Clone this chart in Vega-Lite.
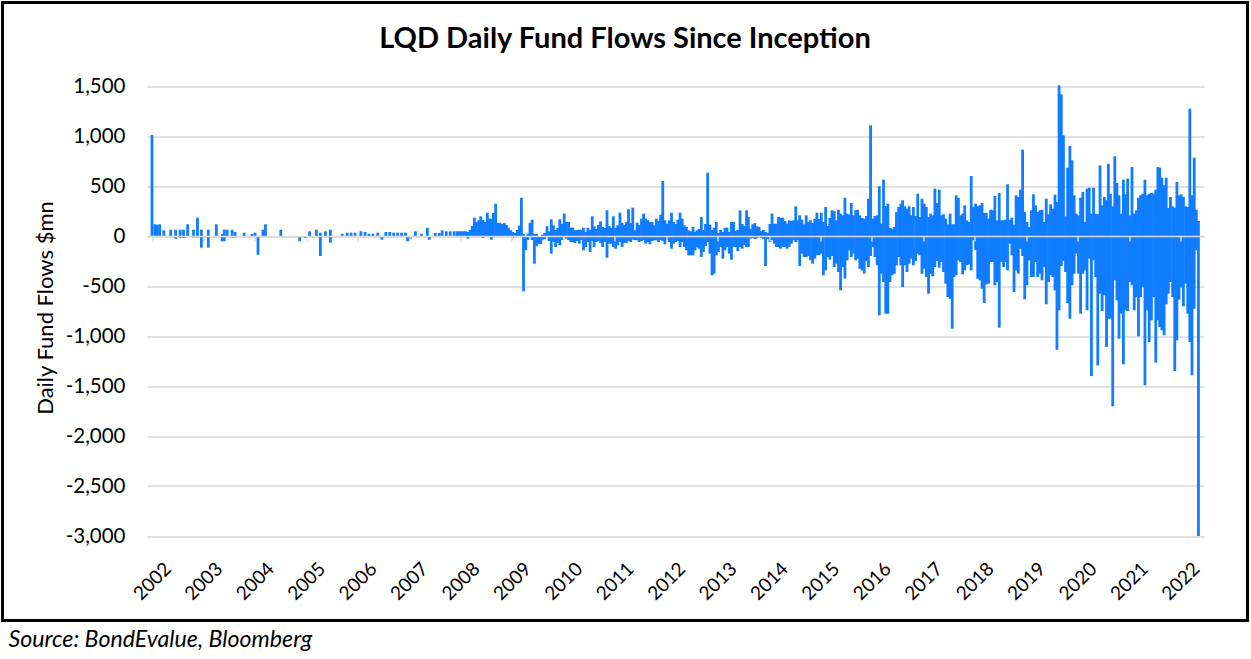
{
"$schema": "https://vega.github.io/schema/vega-lite/v6.json",
"autosize": {"type": "none"},
"padding": {"left": 2.5, "top": 2.5, "right": 3.5, "bottom": 38.5},
"width": 1245,
"height": 618,
"background": "white",
"view": {"stroke": "#000000", "strokeWidth": 3, "fill": "white"},
"title": {"text": "LQD Daily Fund Flows Since Inception", "orient": "top", "anchor": "middle", "offset": -74, "font": "Lato", "fontSize": 29, "fontWeight": "bold", "color": "#000000", "baseline": "alphabetic"},
"data": {"values": [
{"date":"2002-07-26","flow":1010},{"date":"2002-08-15","flow":117},{"date":"2002-09-02","flow":113},{"date":"2002-09-19","flow":117},{"date":"2002-10-18","flow":57},{"date":"2002-12-06","flow":63},
{"date":"2003-01-10","flow":63},{"date":"2003-01-10","flow":-27},{"date":"2003-02-11","flow":63},{"date":"2003-02-11","flow":-20},{"date":"2003-03-07","flow":63},{"date":"2003-03-07","flow":-20},{"date":"2003-04-05","flow":117},{"date":"2003-05-17","flow":63},{"date":"2003-05-17","flow":-15},{"date":"2003-06-14","flow":183},{"date":"2003-06-14","flow":-15},{"date":"2003-07-12","flow":63},{"date":"2003-07-12","flow":-117},{"date":"2003-08-30","flow":63},{"date":"2003-08-30","flow":-117},{"date":"2003-10-26","flow":117},{"date":"2003-12-07","flow":20},{"date":"2003-12-07","flow":-53},{"date":"2003-12-21","flow":63},{"date":"2003-12-21","flow":-53},
{"date":"2004-01-11","flow":63},{"date":"2004-02-15","flow":63},{"date":"2004-02-15","flow":-15},{"date":"2004-03-07","flow":40},{"date":"2004-03-07","flow":-15},{"date":"2004-05-10","flow":33},{"date":"2004-07-05","flow":20},{"date":"2004-07-27","flow":33},{"date":"2004-08-17","flow":-187},{"date":"2004-09-21","flow":63},{"date":"2004-10-09","flow":117},
{"date":"2005-01-26","flow":63},{"date":"2005-06-09","flow":-53},{"date":"2005-07-21","flow":-20},{"date":"2005-08-18","flow":47},{"date":"2005-10-06","flow":63},{"date":"2005-11-03","flow":33},{"date":"2005-11-03","flow":-200},{"date":"2005-12-09","flow":47},
{"date":"2006-01-13","flow":63},{"date":"2006-01-13","flow":-67},{"date":"2006-04-07","flow":23},{"date":"2006-05-12","flow":33},{"date":"2006-06-09","flow":33},{"date":"2006-07-07","flow":33},{"date":"2006-08-18","flow":47},{"date":"2006-09-16","flow":40},{"date":"2006-10-14","flow":23},{"date":"2006-11-11","flow":23},{"date":"2006-12-16","flow":33},
{"date":"2007-01-14","flow":-37},{"date":"2007-02-11","flow":40},{"date":"2007-03-11","flow":40},{"date":"2007-04-08","flow":33},{"date":"2007-05-06","flow":33},{"date":"2007-06-03","flow":33},{"date":"2007-07-01","flow":33},{"date":"2007-07-15","flow":-53},{"date":"2007-08-05","flow":-27},{"date":"2007-09-09","flow":47},{"date":"2007-10-22","flow":23},{"date":"2007-12-03","flow":83},{"date":"2007-12-17","flow":-37},
{"date":"2008-01-28","flow":30},{"date":"2008-02-25","flow":30},{"date":"2008-03-17","flow":57},{"date":"2008-04-15","flow":47},{"date":"2008-05-13","flow":47},{"date":"2008-06-10","flow":47},
{"date":"2008-07-01","flow":47},{"date":"2008-07-16","flow":47},{"date":"2008-08-01","flow":47},{"date":"2008-08-16","flow":47},{"date":"2008-09-01","flow":47},{"date":"2008-09-16","flow":40},{"date":"2008-09-16","flow":-27},{"date":"2008-10-01","flow":60},{"date":"2008-10-16","flow":100},{"date":"2008-11-01","flow":183},{"date":"2008-11-16","flow":140},{"date":"2008-12-01","flow":157},{"date":"2008-12-16","flow":197},
{"date":"2009-01-01","flow":160},{"date":"2009-01-01","flow":-20},{"date":"2009-01-16","flow":140},{"date":"2009-02-01","flow":233},{"date":"2009-02-16","flow":173},{"date":"2009-03-01","flow":173},{"date":"2009-03-01","flow":-37},{"date":"2009-03-16","flow":230},{"date":"2009-04-01","flow":323},{"date":"2009-04-16","flow":130},{"date":"2009-05-01","flow":133},{"date":"2009-05-16","flow":120},{"date":"2009-06-01","flow":130},{"date":"2009-06-16","flow":110},{"date":"2009-07-01","flow":83},{"date":"2009-07-16","flow":57},{"date":"2009-08-01","flow":40},{"date":"2009-08-01","flow":-20},{"date":"2009-08-16","flow":30},{"date":"2009-09-01","flow":60},{"date":"2009-09-16","flow":103},{"date":"2009-10-01","flow":383},{"date":"2009-10-16","flow":20},{"date":"2009-10-16","flow":-553},{"date":"2009-11-01","flow":-143},{"date":"2009-11-16","flow":23},{"date":"2009-11-16","flow":-40},{"date":"2009-12-01","flow":130},{"date":"2009-12-16","flow":163},{"date":"2009-12-16","flow":-40},
{"date":"2010-01-01","flow":20},{"date":"2010-01-01","flow":-277},{"date":"2010-01-16","flow":20},{"date":"2010-01-16","flow":-103},{"date":"2010-02-01","flow":-80},{"date":"2010-02-16","flow":-80},{"date":"2010-03-01","flow":15},{"date":"2010-03-01","flow":-37},{"date":"2010-03-16","flow":30},{"date":"2010-03-16","flow":-30},{"date":"2010-04-01","flow":97},{"date":"2010-04-16","flow":47},{"date":"2010-04-16","flow":-50},{"date":"2010-05-01","flow":167},{"date":"2010-05-01","flow":-177},{"date":"2010-05-16","flow":107},{"date":"2010-05-16","flow":-60},{"date":"2010-06-01","flow":60},{"date":"2010-06-01","flow":-110},{"date":"2010-06-16","flow":80},{"date":"2010-06-16","flow":-70},{"date":"2010-07-01","flow":167},{"date":"2010-07-01","flow":-93},{"date":"2010-07-16","flow":123},{"date":"2010-07-16","flow":-40},{"date":"2010-08-01","flow":223},{"date":"2010-08-16","flow":140},{"date":"2010-08-16","flow":-27},{"date":"2010-09-01","flow":140},{"date":"2010-09-01","flow":-40},{"date":"2010-09-16","flow":83},{"date":"2010-09-16","flow":-60},{"date":"2010-10-01","flow":83},{"date":"2010-10-01","flow":-60},{"date":"2010-10-16","flow":57},{"date":"2010-10-16","flow":-70},{"date":"2010-11-01","flow":60},{"date":"2010-11-01","flow":-50},{"date":"2010-11-16","flow":63},{"date":"2010-11-16","flow":-77},{"date":"2010-12-01","flow":63},{"date":"2010-12-01","flow":-40},{"date":"2010-12-16","flow":83},{"date":"2010-12-16","flow":-143},
{"date":"2011-01-01","flow":40},{"date":"2011-01-01","flow":-110},{"date":"2011-01-16","flow":83},{"date":"2011-01-16","flow":-60},{"date":"2011-02-01","flow":60},{"date":"2011-02-01","flow":-160},{"date":"2011-02-16","flow":197},{"date":"2011-02-16","flow":-50},{"date":"2011-03-01","flow":97},{"date":"2011-03-01","flow":-110},{"date":"2011-03-16","flow":70},{"date":"2011-03-16","flow":-60},{"date":"2011-04-01","flow":110},{"date":"2011-04-01","flow":-50},{"date":"2011-04-16","flow":147},{"date":"2011-04-16","flow":-70},{"date":"2011-05-01","flow":90},{"date":"2011-05-01","flow":-110},{"date":"2011-05-16","flow":80},{"date":"2011-05-16","flow":-60},{"date":"2011-06-01","flow":257},{"date":"2011-06-01","flow":-217},{"date":"2011-06-16","flow":100},{"date":"2011-06-16","flow":-77},{"date":"2011-07-01","flow":83},{"date":"2011-07-01","flow":-77},{"date":"2011-07-16","flow":197},{"date":"2011-07-16","flow":-110},{"date":"2011-08-01","flow":83},{"date":"2011-08-01","flow":-127},{"date":"2011-08-16","flow":107},{"date":"2011-08-16","flow":-93},{"date":"2011-09-01","flow":233},{"date":"2011-09-01","flow":-60},{"date":"2011-09-16","flow":130},{"date":"2011-09-16","flow":-110},{"date":"2011-10-01","flow":110},{"date":"2011-10-01","flow":-70},{"date":"2011-10-16","flow":140},{"date":"2011-10-16","flow":-70},{"date":"2011-11-01","flow":267},{"date":"2011-11-01","flow":-50},{"date":"2011-11-16","flow":130},{"date":"2011-11-16","flow":-60},{"date":"2011-12-01","flow":283},{"date":"2011-12-01","flow":-37},{"date":"2011-12-16","flow":57},{"date":"2011-12-16","flow":-40},
{"date":"2012-01-01","flow":133},{"date":"2012-01-01","flow":-43},{"date":"2012-01-16","flow":110},{"date":"2012-01-16","flow":-60},{"date":"2012-02-01","flow":173},{"date":"2012-02-01","flow":-50},{"date":"2012-02-16","flow":223},{"date":"2012-02-16","flow":-40},{"date":"2012-03-01","flow":173},{"date":"2012-03-01","flow":-77},{"date":"2012-03-16","flow":157},{"date":"2012-03-16","flow":-60},{"date":"2012-04-01","flow":140},{"date":"2012-04-01","flow":-83},{"date":"2012-04-16","flow":140},{"date":"2012-04-16","flow":-50},{"date":"2012-05-01","flow":107},{"date":"2012-05-01","flow":-43},{"date":"2012-05-16","flow":173},{"date":"2012-05-16","flow":-43},{"date":"2012-06-01","flow":150},{"date":"2012-06-01","flow":-60},{"date":"2012-06-16","flow":213},{"date":"2012-06-16","flow":-40},{"date":"2012-07-01","flow":550},{"date":"2012-07-01","flow":-50},{"date":"2012-07-16","flow":157},{"date":"2012-07-16","flow":-83},{"date":"2012-08-01","flow":123},{"date":"2012-08-01","flow":-37},{"date":"2012-08-16","flow":157},{"date":"2012-08-16","flow":-60},{"date":"2012-09-01","flow":233},{"date":"2012-09-01","flow":-127},{"date":"2012-09-16","flow":140},{"date":"2012-09-16","flow":-77},{"date":"2012-10-01","flow":120},{"date":"2012-10-01","flow":-60},{"date":"2012-10-16","flow":163},{"date":"2012-10-16","flow":-50},{"date":"2012-11-01","flow":233},{"date":"2012-11-01","flow":-110},{"date":"2012-11-16","flow":173},{"date":"2012-11-16","flow":-60},{"date":"2012-12-01","flow":107},{"date":"2012-12-01","flow":-110},{"date":"2012-12-16","flow":90},{"date":"2012-12-16","flow":-143},
{"date":"2013-01-01","flow":57},{"date":"2013-01-01","flow":-193},{"date":"2013-01-16","flow":47},{"date":"2013-01-16","flow":-193},{"date":"2013-02-01","flow":90},{"date":"2013-02-01","flow":-193},{"date":"2013-02-16","flow":40},{"date":"2013-02-16","flow":-143},{"date":"2013-03-01","flow":57},{"date":"2013-03-01","flow":-110},{"date":"2013-03-16","flow":70},{"date":"2013-03-16","flow":-127},{"date":"2013-04-01","flow":190},{"date":"2013-04-01","flow":-210},{"date":"2013-04-16","flow":60},{"date":"2013-04-16","flow":-160},{"date":"2013-05-01","flow":120},{"date":"2013-05-01","flow":-100},{"date":"2013-05-16","flow":633},{"date":"2013-05-16","flow":-60},{"date":"2013-06-01","flow":113},{"date":"2013-06-01","flow":-177},{"date":"2013-06-16","flow":60},{"date":"2013-06-16","flow":-393},{"date":"2013-07-01","flow":83},{"date":"2013-07-01","flow":-377},{"date":"2013-07-16","flow":140},{"date":"2013-07-16","flow":-193},{"date":"2013-08-01","flow":30},{"date":"2013-08-01","flow":-160},{"date":"2013-08-16","flow":60},{"date":"2013-08-16","flow":-110},{"date":"2013-09-01","flow":40},{"date":"2013-09-01","flow":-227},{"date":"2013-09-16","flow":83},{"date":"2013-09-16","flow":-143},{"date":"2013-10-01","flow":83},{"date":"2013-10-01","flow":-110},{"date":"2013-10-16","flow":40},{"date":"2013-10-16","flow":-177},{"date":"2013-11-01","flow":140},{"date":"2013-11-01","flow":-237},{"date":"2013-11-16","flow":140},{"date":"2013-11-16","flow":-110},{"date":"2013-12-01","flow":50},{"date":"2013-12-01","flow":-110},{"date":"2013-12-16","flow":60},{"date":"2013-12-16","flow":-150},
{"date":"2014-01-01","flow":257},{"date":"2014-01-01","flow":-110},{"date":"2014-01-16","flow":120},{"date":"2014-01-16","flow":-127},{"date":"2014-02-01","flow":100},{"date":"2014-02-01","flow":-90},{"date":"2014-02-16","flow":257},{"date":"2014-02-16","flow":-110},{"date":"2014-03-01","flow":190},{"date":"2014-03-01","flow":-110},{"date":"2014-03-16","flow":73},{"date":"2014-03-16","flow":-27},{"date":"2014-04-01","flow":117},{"date":"2014-04-01","flow":-20},{"date":"2014-04-16","flow":130},{"date":"2014-04-16","flow":-30},{"date":"2014-05-01","flow":97},{"date":"2014-05-01","flow":-25},{"date":"2014-05-16","flow":90},{"date":"2014-06-01","flow":50},{"date":"2014-06-01","flow":-20},{"date":"2014-06-16","flow":60},{"date":"2014-06-16","flow":-30},{"date":"2014-07-01","flow":40},{"date":"2014-07-01","flow":-300},{"date":"2014-07-16","flow":30},{"date":"2014-07-16","flow":-30},{"date":"2014-08-01","flow":120},{"date":"2014-08-01","flow":-60},{"date":"2014-08-16","flow":223},{"date":"2014-08-16","flow":-40},{"date":"2014-09-01","flow":123},{"date":"2014-09-01","flow":-77},{"date":"2014-09-16","flow":123},{"date":"2014-09-16","flow":-110},{"date":"2014-10-01","flow":190},{"date":"2014-10-01","flow":-110},{"date":"2014-10-16","flow":183},{"date":"2014-10-16","flow":-127},{"date":"2014-11-01","flow":183},{"date":"2014-11-01","flow":-110},{"date":"2014-11-16","flow":150},{"date":"2014-11-16","flow":-110},{"date":"2014-12-01","flow":123},{"date":"2014-12-01","flow":-127},{"date":"2014-12-16","flow":157},{"date":"2014-12-16","flow":-110},
{"date":"2015-01-01","flow":150},{"date":"2015-01-01","flow":-77},{"date":"2015-01-16","flow":157},{"date":"2015-01-16","flow":-43},{"date":"2015-02-01","flow":297},{"date":"2015-02-01","flow":-60},{"date":"2015-02-16","flow":157},{"date":"2015-02-16","flow":-43},{"date":"2015-03-01","flow":207},{"date":"2015-03-01","flow":-300},{"date":"2015-03-16","flow":163},{"date":"2015-03-16","flow":-177},{"date":"2015-04-01","flow":117},{"date":"2015-04-01","flow":-210},{"date":"2015-04-16","flow":207},{"date":"2015-04-16","flow":-210},{"date":"2015-05-01","flow":140},{"date":"2015-05-01","flow":-200},{"date":"2015-05-16","flow":157},{"date":"2015-05-16","flow":-243},{"date":"2015-06-01","flow":130},{"date":"2015-06-01","flow":-277},{"date":"2015-06-16","flow":173},{"date":"2015-06-16","flow":-227},{"date":"2015-07-01","flow":233},{"date":"2015-07-01","flow":-193},{"date":"2015-07-16","flow":170},{"date":"2015-07-16","flow":-190},{"date":"2015-08-01","flow":233},{"date":"2015-08-01","flow":-177},{"date":"2015-08-16","flow":140},{"date":"2015-08-16","flow":-393},{"date":"2015-09-01","flow":290},{"date":"2015-09-01","flow":-343},{"date":"2015-09-16","flow":100},{"date":"2015-09-16","flow":-210},{"date":"2015-10-01","flow":180},{"date":"2015-10-01","flow":-237},{"date":"2015-10-16","flow":257},{"date":"2015-10-16","flow":-200},{"date":"2015-11-01","flow":247},{"date":"2015-11-01","flow":-310},{"date":"2015-11-16","flow":157},{"date":"2015-11-16","flow":-277},{"date":"2015-12-01","flow":263},{"date":"2015-12-01","flow":-360},{"date":"2015-12-16","flow":223},{"date":"2015-12-16","flow":-543},
{"date":"2016-01-01","flow":207},{"date":"2016-01-01","flow":-310},{"date":"2016-01-16","flow":383},{"date":"2016-01-16","flow":-427},{"date":"2016-02-01","flow":223},{"date":"2016-02-01","flow":-243},{"date":"2016-02-16","flow":213},{"date":"2016-02-16","flow":-143},{"date":"2016-03-01","flow":330},{"date":"2016-03-01","flow":-210},{"date":"2016-03-16","flow":207},{"date":"2016-03-16","flow":-177},{"date":"2016-04-01","flow":257},{"date":"2016-04-01","flow":-243},{"date":"2016-04-16","flow":263},{"date":"2016-04-16","flow":-227},{"date":"2016-05-01","flow":207},{"date":"2016-05-01","flow":-327},{"date":"2016-05-16","flow":180},{"date":"2016-05-16","flow":-343},{"date":"2016-06-01","flow":173},{"date":"2016-06-01","flow":-377},{"date":"2016-06-16","flow":200},{"date":"2016-06-16","flow":-250},{"date":"2016-07-01","flow":373},{"date":"2016-07-01","flow":-310},{"date":"2016-07-16","flow":1107},{"date":"2016-07-16","flow":-200},{"date":"2016-08-01","flow":173},{"date":"2016-08-01","flow":-110},{"date":"2016-08-16","flow":200},{"date":"2016-08-16","flow":-210},{"date":"2016-09-01","flow":207},{"date":"2016-09-01","flow":-293},{"date":"2016-09-16","flow":497},{"date":"2016-09-16","flow":-793},{"date":"2016-10-01","flow":123},{"date":"2016-10-01","flow":-377},{"date":"2016-10-16","flow":563},{"date":"2016-10-16","flow":-460},{"date":"2016-11-01","flow":300},{"date":"2016-11-01","flow":-777},{"date":"2016-11-16","flow":323},{"date":"2016-11-16","flow":-777},{"date":"2016-12-01","flow":80},{"date":"2016-12-01","flow":-460},{"date":"2016-12-16","flow":73},{"date":"2016-12-16","flow":-393},
{"date":"2017-01-01","flow":90},{"date":"2017-01-01","flow":-377},{"date":"2017-01-16","flow":240},{"date":"2017-01-16","flow":-293},{"date":"2017-02-01","flow":290},{"date":"2017-02-01","flow":-210},{"date":"2017-02-16","flow":323},{"date":"2017-02-16","flow":-293},{"date":"2017-03-01","flow":357},{"date":"2017-03-01","flow":-510},{"date":"2017-03-16","flow":297},{"date":"2017-03-16","flow":-293},{"date":"2017-04-01","flow":273},{"date":"2017-04-01","flow":-360},{"date":"2017-04-16","flow":297},{"date":"2017-04-16","flow":-277},{"date":"2017-05-01","flow":207},{"date":"2017-05-01","flow":-227},{"date":"2017-05-16","flow":290},{"date":"2017-05-16","flow":-293},{"date":"2017-06-01","flow":200},{"date":"2017-06-01","flow":-250},{"date":"2017-06-16","flow":423},{"date":"2017-06-16","flow":-177},{"date":"2017-07-01","flow":190},{"date":"2017-07-01","flow":-193},{"date":"2017-07-16","flow":373},{"date":"2017-07-16","flow":-377},{"date":"2017-08-01","flow":323},{"date":"2017-08-01","flow":-327},{"date":"2017-08-16","flow":290},{"date":"2017-08-16","flow":-410},{"date":"2017-09-01","flow":190},{"date":"2017-09-01","flow":-577},{"date":"2017-09-16","flow":223},{"date":"2017-09-16","flow":-377},{"date":"2017-10-01","flow":207},{"date":"2017-10-01","flow":-403},{"date":"2017-10-16","flow":473},{"date":"2017-10-16","flow":-310},{"date":"2017-11-01","flow":330},{"date":"2017-11-01","flow":-250},{"date":"2017-11-16","flow":463},{"date":"2017-11-16","flow":-317},{"date":"2017-12-01","flow":207},{"date":"2017-12-01","flow":-260},{"date":"2017-12-16","flow":217},{"date":"2017-12-16","flow":-360},
{"date":"2018-01-01","flow":173},{"date":"2018-01-01","flow":-477},{"date":"2018-01-16","flow":117},{"date":"2018-01-16","flow":-610},{"date":"2018-02-01","flow":223},{"date":"2018-02-01","flow":-627},{"date":"2018-02-16","flow":117},{"date":"2018-02-16","flow":-927},{"date":"2018-03-01","flow":117},{"date":"2018-03-01","flow":-410},{"date":"2018-03-16","flow":407},{"date":"2018-03-16","flow":-393},{"date":"2018-04-01","flow":383},{"date":"2018-04-01","flow":-243},{"date":"2018-04-16","flow":207},{"date":"2018-04-16","flow":-260},{"date":"2018-05-01","flow":223},{"date":"2018-05-01","flow":-383},{"date":"2018-05-16","flow":307},{"date":"2018-05-16","flow":-343},{"date":"2018-06-01","flow":157},{"date":"2018-06-01","flow":-293},{"date":"2018-06-16","flow":140},{"date":"2018-06-16","flow":-283},{"date":"2018-07-01","flow":600},{"date":"2018-07-01","flow":-343},{"date":"2018-07-16","flow":290},{"date":"2018-07-16","flow":-43},{"date":"2018-08-01","flow":323},{"date":"2018-08-01","flow":-140},{"date":"2018-08-16","flow":297},{"date":"2018-08-16","flow":-427},{"date":"2018-09-01","flow":307},{"date":"2018-09-01","flow":-443},{"date":"2018-09-16","flow":330},{"date":"2018-09-16","flow":-527},{"date":"2018-10-01","flow":230},{"date":"2018-10-01","flow":-670},{"date":"2018-10-16","flow":230},{"date":"2018-10-16","flow":-483},{"date":"2018-11-01","flow":173},{"date":"2018-11-01","flow":-477},{"date":"2018-11-16","flow":263},{"date":"2018-11-16","flow":-260},{"date":"2018-12-01","flow":257},{"date":"2018-12-01","flow":-260},{"date":"2018-12-16","flow":400},{"date":"2018-12-16","flow":-493},
{"date":"2019-01-01","flow":157},{"date":"2019-01-01","flow":-460},{"date":"2019-01-16","flow":430},{"date":"2019-01-16","flow":-917},{"date":"2019-02-01","flow":157},{"date":"2019-02-01","flow":-260},{"date":"2019-02-16","flow":157},{"date":"2019-02-16","flow":-310},{"date":"2019-03-01","flow":163},{"date":"2019-03-01","flow":-260},{"date":"2019-03-16","flow":517},{"date":"2019-03-16","flow":-343},{"date":"2019-04-01","flow":163},{"date":"2019-04-01","flow":-77},{"date":"2019-04-16","flow":183},{"date":"2019-04-16","flow":-193},{"date":"2019-05-01","flow":113},{"date":"2019-05-01","flow":-560},{"date":"2019-05-16","flow":407},{"date":"2019-05-16","flow":-343},{"date":"2019-06-01","flow":390},{"date":"2019-06-01","flow":-377},{"date":"2019-06-16","flow":463},{"date":"2019-06-16","flow":-127},{"date":"2019-07-01","flow":863},{"date":"2019-07-01","flow":-200},{"date":"2019-07-16","flow":240},{"date":"2019-07-16","flow":-633},{"date":"2019-08-01","flow":140},{"date":"2019-08-01","flow":-493},{"date":"2019-08-16","flow":90},{"date":"2019-08-16","flow":-243},{"date":"2019-09-01","flow":257},{"date":"2019-09-01","flow":-410},{"date":"2019-09-16","flow":417},{"date":"2019-09-16","flow":-410},{"date":"2019-10-01","flow":307},{"date":"2019-10-01","flow":-260},{"date":"2019-10-16","flow":240},{"date":"2019-10-16","flow":-410},{"date":"2019-11-01","flow":257},{"date":"2019-11-01","flow":-377},{"date":"2019-11-16","flow":263},{"date":"2019-11-16","flow":-443},{"date":"2019-12-01","flow":140},{"date":"2019-12-01","flow":-310},{"date":"2019-12-16","flow":373},{"date":"2019-12-16","flow":-683},
{"date":"2020-01-01","flow":217},{"date":"2020-01-01","flow":-460},{"date":"2020-01-16","flow":317},{"date":"2020-01-16","flow":-393},{"date":"2020-02-01","flow":273},{"date":"2020-02-01","flow":-410},{"date":"2020-02-16","flow":413},{"date":"2020-02-16","flow":-543},{"date":"2020-03-01","flow":340},{"date":"2020-03-01","flow":-1137},{"date":"2020-03-16","flow":1507},{"date":"2020-03-16","flow":-743},{"date":"2020-04-01","flow":1417},{"date":"2020-04-01","flow":-300},{"date":"2020-04-16","flow":1007},{"date":"2020-04-16","flow":-250},{"date":"2020-05-01","flow":197},{"date":"2020-05-01","flow":-360},{"date":"2020-05-16","flow":683},{"date":"2020-05-16","flow":-670},{"date":"2020-06-01","flow":900},{"date":"2020-06-01","flow":-827},{"date":"2020-06-16","flow":757},{"date":"2020-06-16","flow":-493},{"date":"2020-07-01","flow":407},{"date":"2020-07-01","flow":-377},{"date":"2020-07-16","flow":223},{"date":"2020-07-16","flow":-177},{"date":"2020-08-01","flow":207},{"date":"2020-08-01","flow":-377},{"date":"2020-08-16","flow":383},{"date":"2020-08-16","flow":-777},{"date":"2020-09-01","flow":440},{"date":"2020-09-01","flow":-377},{"date":"2020-09-16","flow":140},{"date":"2020-09-16","flow":-343},{"date":"2020-10-01","flow":473},{"date":"2020-10-01","flow":-743},{"date":"2020-10-16","flow":483},{"date":"2020-10-16","flow":-227},{"date":"2020-11-01","flow":223},{"date":"2020-11-01","flow":-1400},{"date":"2020-11-16","flow":483},{"date":"2020-11-16","flow":-243},{"date":"2020-12-01","flow":223},{"date":"2020-12-01","flow":-410},{"date":"2020-12-16","flow":217},{"date":"2020-12-16","flow":-1293},
{"date":"2021-01-01","flow":707},{"date":"2021-01-01","flow":-577},{"date":"2021-01-16","flow":307},{"date":"2021-01-16","flow":-750},{"date":"2021-02-01","flow":390},{"date":"2021-02-01","flow":-593},{"date":"2021-02-16","flow":357},{"date":"2021-02-16","flow":-1110},{"date":"2021-03-01","flow":723},{"date":"2021-03-01","flow":-827},{"date":"2021-03-16","flow":423},{"date":"2021-03-16","flow":-827},{"date":"2021-04-01","flow":297},{"date":"2021-04-01","flow":-1703},{"date":"2021-04-16","flow":797},{"date":"2021-04-16","flow":-443},{"date":"2021-05-01","flow":530},{"date":"2021-05-01","flow":-643},{"date":"2021-05-16","flow":407},{"date":"2021-05-16","flow":-1027},{"date":"2021-06-01","flow":223},{"date":"2021-06-01","flow":-777},{"date":"2021-06-16","flow":563},{"date":"2021-06-16","flow":-1283},{"date":"2021-07-01","flow":417},{"date":"2021-07-01","flow":-743},{"date":"2021-07-16","flow":573},{"date":"2021-07-16","flow":-750},{"date":"2021-08-01","flow":207},{"date":"2021-08-01","flow":-460},{"date":"2021-08-16","flow":690},{"date":"2021-08-16","flow":-493},{"date":"2021-09-01","flow":223},{"date":"2021-09-01","flow":-743},{"date":"2021-09-16","flow":257},{"date":"2021-09-16","flow":-610},{"date":"2021-10-01","flow":383},{"date":"2021-10-01","flow":-1003},{"date":"2021-10-16","flow":407},{"date":"2021-10-16","flow":-610},{"date":"2021-11-01","flow":423},{"date":"2021-11-01","flow":-510},{"date":"2021-11-16","flow":563},{"date":"2021-11-16","flow":-1493},{"date":"2021-12-01","flow":407},{"date":"2021-12-01","flow":-743},{"date":"2021-12-16","flow":423},{"date":"2021-12-16","flow":-1060},
{"date":"2022-01-01","flow":430},{"date":"2022-01-01","flow":-843},{"date":"2022-01-16","flow":423},{"date":"2022-01-16","flow":-610},{"date":"2022-02-01","flow":463},{"date":"2022-02-01","flow":-1267},{"date":"2022-02-16","flow":690},{"date":"2022-02-16","flow":-843},{"date":"2022-03-01","flow":683},{"date":"2022-03-01","flow":-910},{"date":"2022-03-16","flow":583},{"date":"2022-03-16","flow":-943},{"date":"2022-04-01","flow":507},{"date":"2022-04-01","flow":-993},{"date":"2022-04-16","flow":583},{"date":"2022-04-16","flow":-683},{"date":"2022-05-01","flow":280},{"date":"2022-05-01","flow":-577},{"date":"2022-05-16","flow":390},{"date":"2022-05-16","flow":-460},{"date":"2022-06-01","flow":297},{"date":"2022-06-01","flow":-610},{"date":"2022-06-16","flow":283},{"date":"2022-06-16","flow":-1350},{"date":"2022-07-01","flow":540},{"date":"2022-07-01","flow":-1043},{"date":"2022-07-16","flow":407},{"date":"2022-07-16","flow":-637},{"date":"2022-08-01","flow":417},{"date":"2022-08-01","flow":-517},{"date":"2022-08-16","flow":390},{"date":"2022-08-16","flow":-703},{"date":"2022-09-01","flow":297},{"date":"2022-09-01","flow":-477},{"date":"2022-09-16","flow":290},{"date":"2022-09-16","flow":-777},{"date":"2022-10-01","flow":1273},{"date":"2022-10-01","flow":-1060},{"date":"2022-10-16","flow":407},{"date":"2022-10-16","flow":-1393},{"date":"2022-11-01","flow":783},{"date":"2022-11-01","flow":-727},{"date":"2022-11-16","flow":263},{"date":"2022-11-16","flow":-143},{"date":"2022-12-01","flow":150},{"date":"2022-12-01","flow":-3000}
]},
"mark": {"type": "bar", "width": 2.8, "color": "#107cff"},
"encoding": {
  "x": {
    "field": "date", "type": "temporal",
    "scale": {"type": "utc", "domain": [{"year": 2002, "month": 7, "date": 26, "utc": true}, {"year": 2022, "month": 12, "date": 5, "utc": true}], "range": [144.5, 1201.5]},
    "axis": {
      "orient": "bottom", "offset": -384.5,
      "values": [{"year":2002,"month":7,"date":26,"utc":true},{"year":2003,"month":7,"date":26,"utc":true},{"year":2004,"month":7,"date":26,"utc":true},{"year":2005,"month":7,"date":26,"utc":true},{"year":2006,"month":7,"date":26,"utc":true},{"year":2007,"month":7,"date":26,"utc":true},{"year":2008,"month":7,"date":26,"utc":true},{"year":2009,"month":7,"date":26,"utc":true},{"year":2010,"month":7,"date":26,"utc":true},{"year":2011,"month":7,"date":26,"utc":true},{"year":2012,"month":7,"date":26,"utc":true},{"year":2013,"month":7,"date":26,"utc":true},{"year":2014,"month":7,"date":26,"utc":true},{"year":2015,"month":7,"date":26,"utc":true},{"year":2016,"month":7,"date":26,"utc":true},{"year":2017,"month":7,"date":26,"utc":true},{"year":2018,"month":7,"date":26,"utc":true},{"year":2019,"month":7,"date":26,"utc":true},{"year":2020,"month":7,"date":26,"utc":true},{"year":2021,"month":7,"date":26,"utc":true},{"year":2022,"month":7,"date":26,"utc":true}],
      "format": "%Y",
      "labelAngle": -45, "labelAlign": "center", "labelBaseline": "middle", "labelPadding": 340,
      "labelFont": "Lato", "labelFontSize": 19, "labelColor": "#000000",
      "labelFlush": false, "labelOverlap": false, "labelBound": false,
      "domain": true, "domainColor": "#d9d9d9", "domainWidth": 1.5,
      "ticks": true, "tickColor": "#d9d9d9", "tickSize": 5, "tickWidth": 1.5,
      "grid": false, "zindex": 1,
      "title": "Source: BondEvalue, Bloomberg",
      "titleFont": "Lato", "titleFontSize": 23.2, "titleFontStyle": "italic", "titleFontWeight": "normal", "titleColor": "#000000",
      "titleX": 5.5, "titleY": 410, "titleAlign": "left", "titleAnchor": "start", "titleBaseline": "alphabetic"
    }
  },
  "y": {
    "field": "flow", "type": "quantitative",
    "scale": {"domain": [-3000, 1500], "range": [533.5, 83.5], "nice": false, "zero": false},
    "axis": {
      "orient": "left", "offset": -144.5,
      "values": [-3000, -2500, -2000, -1500, -1000, -500, 0, 500, 1000, 1500],
      "format": ",.0f",
      "domain": false, "ticks": false,
      "grid": true, "gridColor": "#d9d9d9", "gridWidth": 1.5,
      "labelPadding": 22, "labelFont": "Lato", "labelFontSize": 20.5, "labelColor": "#000000",
      "title": "Daily Fund Flows $mn",
      "titleFont": "Lato", "titleFontSize": 22, "titleFontWeight": "normal", "titleColor": "#000000",
      "titleX": -102, "titleY": 305, "titleAngle": 270, "titleAlign": "center", "titleBaseline": "middle",
      "zindex": 0
    }
  }
},
"config": {"font": "Lato", "locale": {"number": {"decimal": ".", "thousands": ",", "grouping": [3], "currency": ["$", ""], "minus": "-"}}}
}
